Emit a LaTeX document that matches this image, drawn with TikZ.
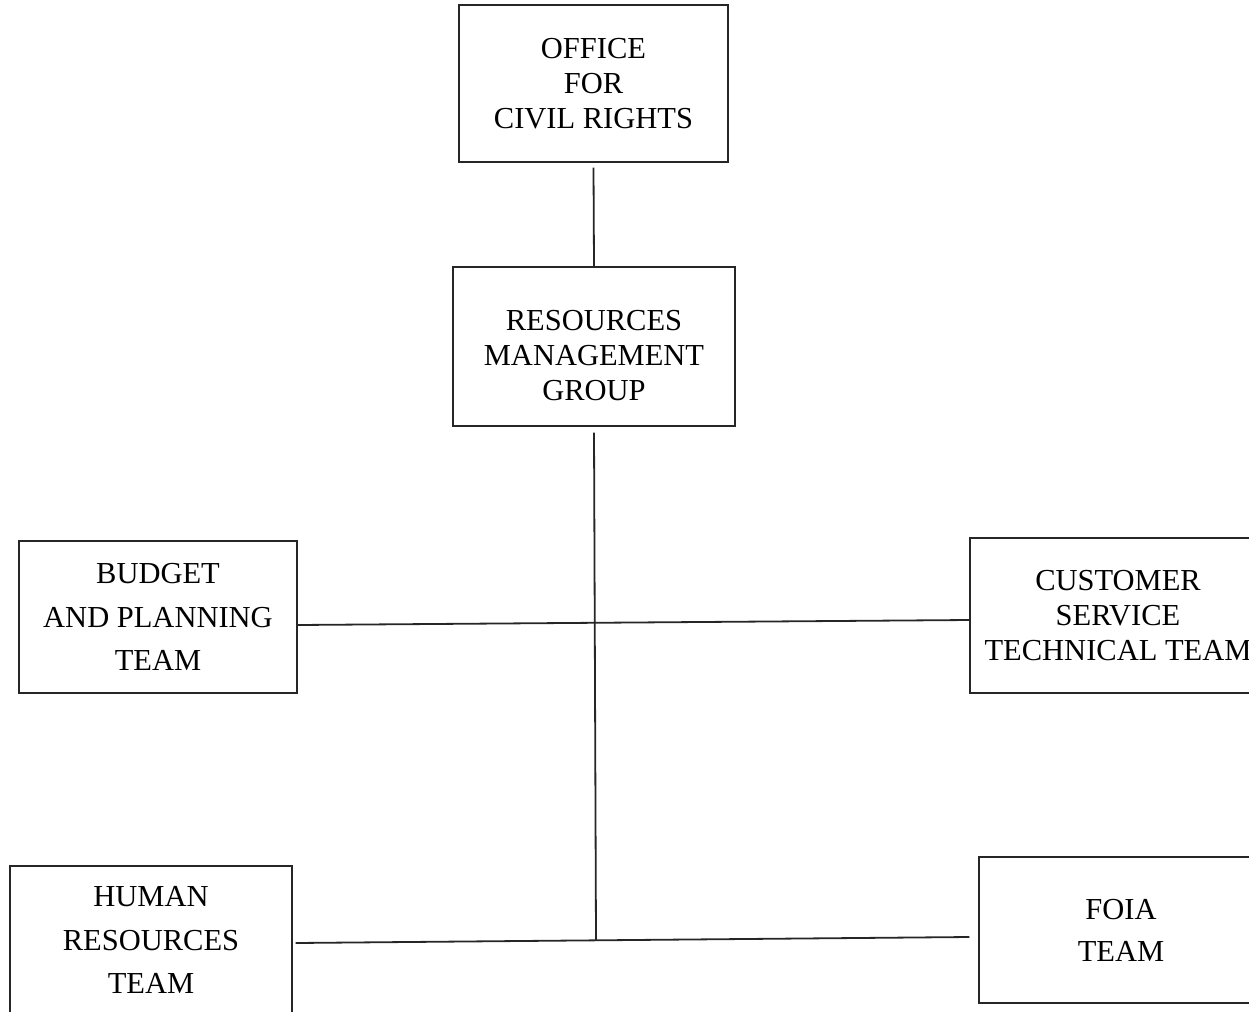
\documentclass[tikz,border=0pt]{standalone}
\usepackage{fontspec}
\setmainfont{Liberation Serif}
\begin{document}
\begin{tikzpicture}[x=1pt,y=-1pt,
  box/.style={draw=black!85,line width=1.4pt,rectangle,inner sep=0pt,align=center,
    font=\fontsize{30.5}{35}\selectfont},
  wide/.style={font=\fontsize{30.5}{43.5}\selectfont},
  foiafont/.style={font=\fontsize{30.5}{42}\selectfont},
  conn/.style={draw=black!85,line width=1.8pt}]
\useasboundingbox (0,0) rectangle (1249,1011);
\clip (0,0) rectangle (1249,1011);
\node[box,minimum width=269pt,minimum height=157pt] (ocr) at (593.5,83.5) {OFFICE\\ FOR\\ CIVIL RIGHTS};
\node[box,minimum width=282pt,minimum height=159pt,
  label={[align=center,inner sep=0pt,font=\fontsize{30.5}{35}\selectfont,yshift=-9pt]center:RESOURCES\\ MANAGEMENT\\ GROUP}] (rmg) at (594,346.5) {};
\node[box,wide,minimum width=278pt,minimum height=152pt] (bud) at (158,617) {BUDGET\\ AND PLANNING\\ TEAM};
\node[box,minimum width=296pt,minimum height=155pt] (cst) at (1118,615.5) {CUSTOMER\\ SERVICE\\ TECHNICAL TEAM};
\node[box,wide,minimum width=282pt,minimum height=148pt] (hrt) at (151,940) {HUMAN\\ RESOURCES\\ TEAM};
\node[box,foiafont,minimum width=284pt,minimum height=146pt] (foia) at (1121,930) {FOIA\\ TEAM};
\coordinate (j) at (596,940);
\draw[conn] ([yshift=-5pt]ocr.south) -- (rmg.north);
\draw[conn] ([yshift=-6pt]rmg.south) -- (j);
\draw[conn] ([yshift=-8pt]bud.east) -- ([yshift=-4.5pt]cst.west);
\draw[conn] ([xshift=3pt,yshift=-3pt]hrt.east) -- ([xshift=-9pt,yshift=-7pt]foia.west);
\end{tikzpicture}
\end{document}
